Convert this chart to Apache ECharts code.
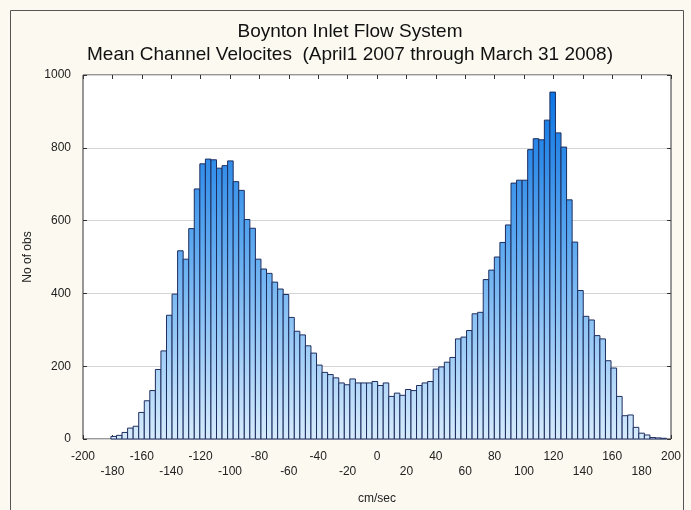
<!DOCTYPE html>
<html>
<head>
<meta charset="utf-8">
<script src="https://cdn.jsdelivr.net/npm/echarts@6/dist/echarts.min.js"></script>
<style>
  html, body { margin: 0; padding: 0; background: #fcf9f1; }
  #chart { width: 691px; height: 510px; }
</style>
</head>
<body>
<div id="chart"></div>
<script>
// Histogram of mean channel velocities (cm/sec), 100 equal-width classes
const binStart = -181;
const binWidth = 3.78;
const counts = [
  7, 10, 18, 30, 35, 73, 105, 133, 191, 242,
  340, 398, 517, 494, 578, 687, 756, 769, 767, 744,
  751, 764, 707, 683, 603, 579, 494, 467, 455, 431,
  412, 397, 334, 296, 286, 256, 236, 203, 183, 177,
  168, 154, 149, 165, 154, 154, 154, 158, 147, 154,
  117, 126, 120, 136, 133, 147, 154, 158, 192, 198,
  211, 224, 275, 280, 298, 344, 348, 438, 464, 500,
  540, 588, 703, 711, 711, 795, 825, 822, 876, 953,
  841, 802, 657, 541, 408, 337, 327, 284, 275, 215,
  195, 117, 64, 66, 32, 16, 11, 4, 3, 2
];
const xTicks = { min: -200, max: 200, step: 20 };
const yTicks = { min: 0, max: 1000, step: 200 };

const bins = counts.map((c, i) => [binStart + i * binWidth, binStart + (i + 1) * binWidth, c]);

const chart = echarts.init(document.getElementById('chart'));
const font = '"Liberation Sans", Arial, sans-serif';

const tickStyle = { show: true, inside: true, length: 4, lineStyle: { color: '#333' } };

chart.setOption({
  backgroundColor: '#fcf9f1',
  animation: false,
  textStyle: { fontFamily: font },
  graphic: [
    { type: 'rect', shape: { x: 10.5, y: 10.5, width: 673, height: 520 },
      style: { fill: null, stroke: '#555', lineWidth: 1 }, z: -10 },
    { type: 'text', x: 350, y: 32,
      style: { text: 'Boynton Inlet Flow System', font: '19px ' + font, fill: '#111',
               textAlign: 'center', textVerticalAlign: 'middle' } },
    { type: 'text', x: 350, y: 55,
      style: { text: 'Mean Channel Velocites  (April1 2007 through March 31 2008)', font: '19px ' + font,
               fill: '#111', textAlign: 'center', textVerticalAlign: 'middle' } }
  ],
  grid: { left: 83, right: 20, top: 75, bottom: 71, show: true,
          backgroundColor: '#ffffff', borderColor: '#333', borderWidth: 1 },
  xAxis: [
    { type: 'value', min: xTicks.min, max: xTicks.max, interval: xTicks.step, position: 'bottom',
      name: 'cm/sec', nameLocation: 'middle', nameGap: 54,
      nameTextStyle: { fontSize: 12, color: '#222' },
      axisLine: { show: false, onZero: false },
      axisTick: tickStyle,
      splitLine: { show: false },
      axisLabel: { fontSize: 12, color: '#222', margin: 10, lineHeight: 15,
        formatter: v => (Math.round(v / xTicks.step) % 2 !== 0) ? '\n' + v : String(v) } },
    { type: 'value', min: xTicks.min, max: xTicks.max, interval: xTicks.step, position: 'top',
      axisLine: { show: false, onZero: false },
      axisTick: tickStyle,
      splitLine: { show: false }, axisLabel: { show: false } }
  ],
  yAxis: [
    { type: 'value', min: yTicks.min, max: yTicks.max, interval: yTicks.step, position: 'left',
      name: 'No of obs', nameLocation: 'middle', nameGap: 44,
      nameTextStyle: { fontSize: 12, color: '#222' },
      axisLine: { show: false, onZero: false },
      axisTick: tickStyle,
      splitLine: { show: true, lineStyle: { color: '#d4d4d4', width: 1 } },
      axisLabel: { fontSize: 12, color: '#222', margin: 12, formatter: v => String(v) } },
    { type: 'value', min: yTicks.min, max: yTicks.max, interval: yTicks.step, position: 'right',
      axisLine: { show: false, onZero: false },
      axisTick: tickStyle,
      splitLine: { show: false }, axisLabel: { show: false } }
  ],
  series: [{
    type: 'custom',
    xAxisIndex: 0, yAxisIndex: 0,
    data: bins,
    encode: { x: [0, 1], y: 2 },
    renderItem: function (params, api) {
      const p0 = api.coord([api.value(0), api.value(2)]);
      const p1 = api.coord([api.value(1), 0]);
      const yTop = api.coord([0, yTicks.max])[1];
      const yBase = api.coord([0, 0])[1];
      const fill = new echarts.graphic.LinearGradient(0, yTop, 0, yBase, [
        { offset: 0, color: '#0470e2' },
        { offset: 0.45, color: '#5aa7ef' },
        { offset: 1, color: '#d6ebfc' }
      ], true);
      return {
        type: 'rect',
        shape: { x: p0[0], y: p0[1], width: p1[0] - p0[0], height: p1[1] - p0[1] },
        style: { fill: fill, stroke: '#1d2d5e', lineWidth: 1 }
      };
    }
  }]
});
</script>
</body>
</html>
